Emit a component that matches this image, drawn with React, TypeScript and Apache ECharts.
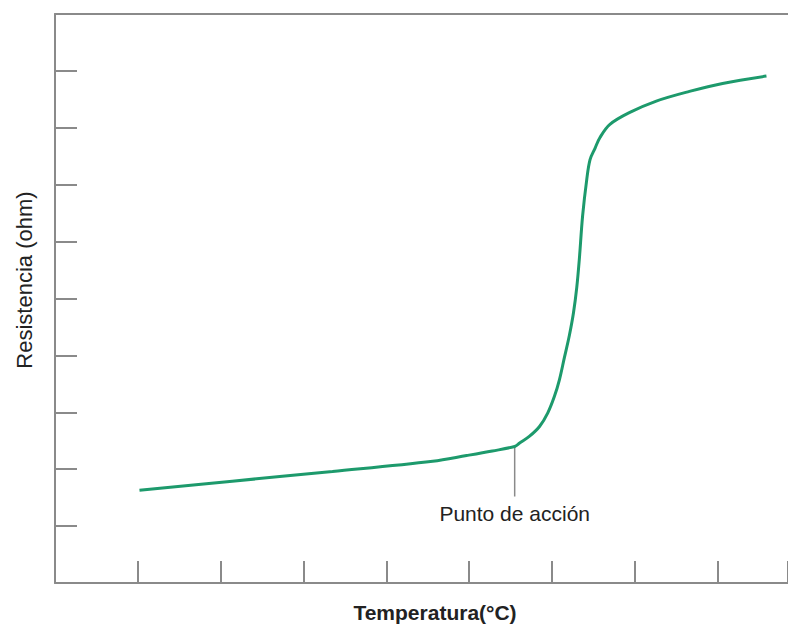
import React, { useEffect, useRef } from "react";
import * as echarts from "echarts";

// Temperature (x) vs resistance (y), in axis units
const temperature = [1.02, 2.14, 3.35, 4.56, 4.97, 5.28, 5.55, 5.61, 5.73, 5.85, 5.95, 6.03, 6.09, 6.15, 6.21, 6.26, 6.30, 6.33, 6.37, 6.42, 6.46, 6.52, 6.58, 6.70, 6.94, 7.26, 7.66, 8.06, 8.59];
const resistance = [1.63, 1.79, 1.96, 2.14, 2.24, 2.32, 2.40, 2.46, 2.58, 2.75, 2.99, 3.28, 3.57, 3.96, 4.35, 4.75, 5.20, 5.68, 6.45, 7.09, 7.44, 7.64, 7.83, 8.06, 8.27, 8.47, 8.64, 8.78, 8.91];

// Action point and the bottom of its leader line
const actionPoint = [5.55, 2.40];
const leaderBottom = 1.52;
const actionLabel = "Punto de acción";

const xTitle = "Temperatura(°C)";
const yTitle = "Resistencia (ohm)";

const AXIS_COLOR = "#8a8a8a";
const CURVE_COLOR = "#1d9a6c";
const FONT = "'Liberation Sans', Arial, sans-serif";

export default function App() {
  const ref = useRef<HTMLDivElement>(null);

  useEffect(() => {
    if (!ref.current) return;
    const chart = echarts.init(ref.current, null, { renderer: "svg" });

    const axisLine = { show: true, lineStyle: { color: AXIS_COLOR, width: 2 } };
    const axisTick = { show: true, inside: true, length: 22, lineStyle: { color: AXIS_COLOR, width: 2 } };

    chart.setOption({
      animation: false,
      backgroundColor: "#ffffff",
      grid: { left: 55, right: 0, top: 14, bottom: 41 },
      xAxis: [
        {
          type: "value",
          min: 0,
          max: 8.85,
          interval: 1,
          axisLine,
          axisTick,
          axisLabel: { show: false },
          splitLine: { show: false },
        },
        {
          type: "value",
          position: "top",
          min: 0,
          max: 8.85,
          interval: 1,
          axisLine,
          axisTick: { show: false },
          axisLabel: { show: false },
          splitLine: { show: false },
        },
      ],
      yAxis: {
        type: "value",
        min: 0,
        max: 10,
        interval: 1,
        axisLine,
        axisTick,
        axisLabel: { show: false },
        splitLine: { show: false },
      },
      series: [
        {
          type: "line",
          data: temperature.map((t, i) => [t, resistance[i]]),
          symbol: "none",
          smooth: 0.35,
          lineStyle: { color: CURVE_COLOR, width: 3 },
        },
        {
          type: "line",
          data: [actionPoint, [actionPoint[0], leaderBottom]],
          symbol: "none",
          lineStyle: { color: AXIS_COLOR, width: 1.5 },
          z: 1,
        },
      ],
    });

    const labelPos = chart.convertToPixel({ gridIndex: 0 }, [actionPoint[0], leaderBottom]) as number[];

    chart.setOption({
      graphic: [
        {
          type: "text",
          x: labelPos[0],
          y: labelPos[1] + 6,
          style: {
            text: actionLabel,
            font: `21px ${FONT}`,
            fill: "#222222",
            textAlign: "center",
            textVerticalAlign: "top",
          },
        },
        {
          type: "text",
          x: 435,
          y: 612,
          style: {
            text: xTitle,
            font: `bold 21px ${FONT}`,
            fill: "#222222",
            textAlign: "center",
            textVerticalAlign: "middle",
          },
        },
        {
          type: "text",
          x: 24,
          y: 280,
          rotation: Math.PI / 2,
          style: {
            text: yTitle,
            font: `22px ${FONT}`,
            fill: "#222222",
            textAlign: "center",
            textVerticalAlign: "middle",
          },
        },
      ],
    });

    return () => chart.dispose();
  }, []);

  return (
    <div
      ref={ref}
      style={{ position: "fixed", left: 0, top: 0, width: 788, height: 624 }}
    />
  );
}
